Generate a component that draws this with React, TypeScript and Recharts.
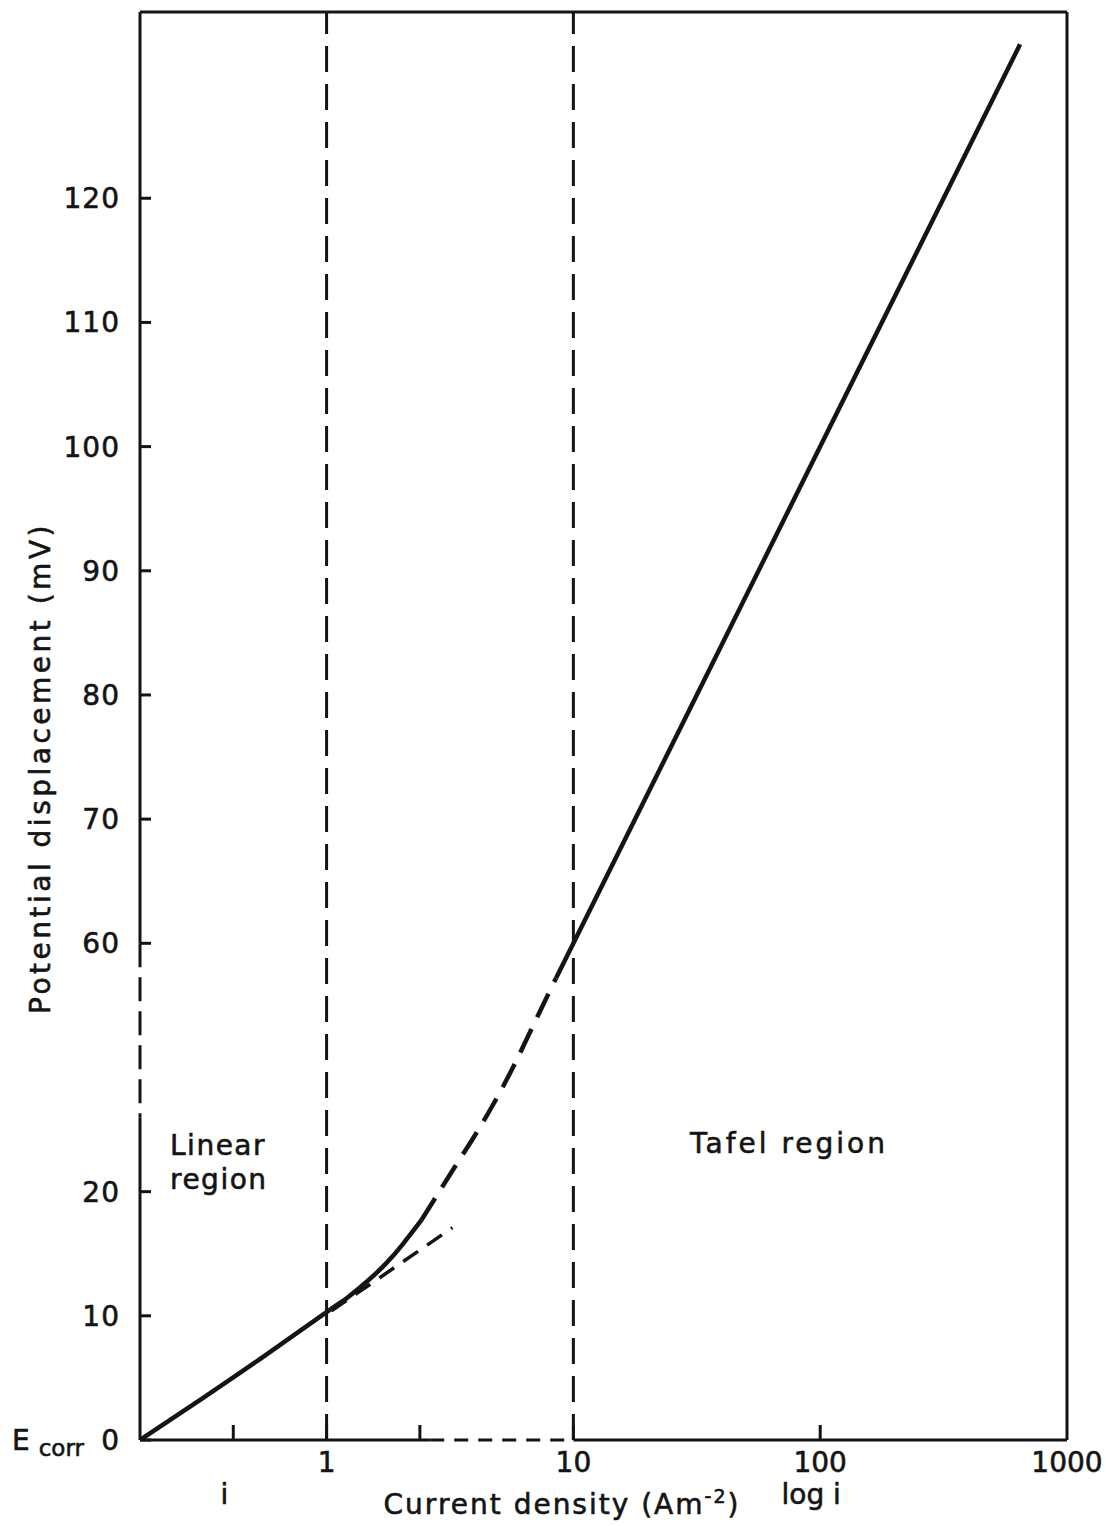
import { ComposedChart, Line, XAxis, YAxis, ReferenceLine } from 'recharts'

// x is in decades from i = 1 (the part left of 1 is drawn linear in i),
// y is the plotted mV: the axis skips 20..40 mV, so above 20 the plot sits 20 lower than the label
const X_MIN = -0.756
const X_MAX = 3
const Y_MAX = 115

const xTicks = [-0.378, 0, 0.378, 1, 2, 3]
const xTickLabels = ['', '1', '', '10', '100', '1000']
const xSubLabels = ['i', '', '', '', 'log i', '']

const yTicks = [0, 10, 20, 40, 50, 60, 70, 80, 90, 100]
const yTickLabels = ['0', '10', '20', '60', '70', '80', '90', '100', '110', '120']

// measured curve (solid, linear region)
const linearX = [-0.756, -0.5, -0.25, 0, 0.08, 0.16, 0.24, 0.31, 0.384]
const linearY = [0, 3.4, 6.8, 10.3, 11.4, 12.7, 14.2, 15.8, 17.7]

// dashed transition between the two regions
const transitionX = [0.384, 0.45, 0.52, 0.6, 0.68, 0.76, 0.84, 0.93]
const transitionY = [17.7, 19.8, 22.0, 24.5, 27.2, 30.2, 33.5, 37.2]

// Tafel line
const tafelX = [0.93, 1, 1.5, 2, 2.5, 2.81]
const tafelY = [37.2, 40, 60, 80, 100, 112.4]

// linear extrapolation past i = 1
const extrapX = [0.02, 0.51]
const extrapY = [10.4, 17.1]

// where the frame lines are dashed
const leftAxisBreak = [26, 40]
const bottomAxisBreak = [0.42, 1]

const toPoints = (xs: number[], ys: number[]) => xs.map((x, i) => ({ x, y: ys[i] }))

const INK = '#141414'
const FONT = '"DejaVu Sans", "Liberation Sans", sans-serif'
const txt = { fontSize: 28, fill: INK, fontFamily: FONT, stroke: INK, strokeWidth: 0.6 }

const XTick = ({ x, y, payload }: any) => {
  const i = xTicks.indexOf(payload.value)
  return (
    <g>
      {payload.value < X_MAX && (
        <line x1={x} y1={y} x2={x} y2={y - 15} stroke={INK} strokeWidth={3} />
      )}
      <text x={x} y={y + 32} textAnchor="middle" {...txt}>
        {xTickLabels[i]}
      </text>
      {xSubLabels[i] && (
        <text x={x - 9} y={y + 64} textAnchor="middle" {...txt}>
          {xSubLabels[i]}
        </text>
      )}
    </g>
  )
}

const YTick = ({ x, y, payload }: any) => {
  const i = yTicks.indexOf(payload.value)
  return (
    <g>
      <line x1={x} y1={y} x2={x + 11} y2={y} stroke={INK} strokeWidth={3} />
      <text x={x - 20} y={y + 10} textAnchor="end" letterSpacing={1} {...txt}>
        {yTickLabels[i]}
      </text>
      {payload.value === 0 && (
        <text x={x - 128} y={y + 10} {...txt}>
          E
          <tspan dx={9} dy={6} fontSize={23}>corr</tspan>
        </text>
      )}
    </g>
  )
}

export default function App() {
  const frame = { stroke: INK, strokeWidth: 3, ifOverflow: 'visible' as const }
  return (
    <div style={{ position: 'fixed', top: 0, left: 0, width: 1112, height: 1526, background: '#fff' }}>
      <ComposedChart
        width={1112}
        height={1526}
        margin={{ top: 12, right: 45, left: 0, bottom: 0 }}
        style={{ fontFamily: FONT }}
      >
        <XAxis
          type="number"
          dataKey="x"
          domain={[X_MIN, X_MAX]}
          allowDataOverflow
          ticks={xTicks}
          interval={0}
          height={86}
          axisLine={false}
          tickLine={false}
          tickSize={0}
          tickMargin={0}
          tick={<XTick />}
        />
        <YAxis
          type="number"
          domain={[0, Y_MAX]}
          allowDataOverflow
          ticks={yTicks}
          interval={0}
          width={140}
          axisLine={false}
          tickLine={false}
          tickSize={0}
          tickMargin={0}
          tick={<YTick />}
        />

        {/* frame */}
        <ReferenceLine segment={[{ x: X_MIN, y: Y_MAX }, { x: X_MAX, y: Y_MAX }]} {...frame} />
        <ReferenceLine segment={[{ x: X_MAX, y: 0 }, { x: X_MAX, y: Y_MAX }]} {...frame} />
        <ReferenceLine segment={[{ x: X_MIN, y: leftAxisBreak[1] }, { x: X_MIN, y: Y_MAX }]} {...frame} />
        <ReferenceLine segment={[{ x: X_MIN, y: leftAxisBreak[1] }, { x: X_MIN, y: leftAxisBreak[0] }]} {...frame} strokeDasharray="24 10" />
        <ReferenceLine segment={[{ x: X_MIN, y: 0 }, { x: X_MIN, y: leftAxisBreak[0] }]} {...frame} />
        <ReferenceLine segment={[{ x: X_MIN, y: 0 }, { x: bottomAxisBreak[0], y: 0 }]} {...frame} />
        <ReferenceLine segment={[{ x: bottomAxisBreak[0], y: 0 }, { x: bottomAxisBreak[1], y: 0 }]} {...frame} strokeDasharray="14 10" />
        <ReferenceLine segment={[{ x: bottomAxisBreak[1], y: 0 }, { x: X_MAX, y: 0 }]} {...frame} />

        <ReferenceLine x={0} stroke={INK} strokeWidth={3} strokeDasharray="26 12" />
        <ReferenceLine x={1} stroke={INK} strokeWidth={3} strokeDasharray="26 12" />

        <Line data={toPoints(linearX, linearY)} dataKey="y" type="natural" stroke={INK} strokeWidth={4.5} dot={false} isAnimationActive={false} />
        <Line data={toPoints(transitionX, transitionY)} dataKey="y" type="natural" stroke={INK} strokeWidth={4.5} strokeDasharray="26 13" dot={false} isAnimationActive={false} />
        <Line data={toPoints(tafelX, tafelY)} dataKey="y" type="linear" stroke={INK} strokeWidth={4.5} dot={false} isAnimationActive={false} />
        <Line data={toPoints(extrapX, extrapY)} dataKey="y" type="linear" stroke={INK} strokeWidth={3.5} strokeDasharray="18 11" dot={false} isAnimationActive={false} />

        <text x={170} y={1155} letterSpacing={1.5} {...txt}>Linear</text>
        <text x={170} y={1189} letterSpacing={1.5} {...txt}>region</text>
        <text x={690} y={1153} letterSpacing={3} {...txt}>Tafel region</text>

        <text
          x={40}
          y={768}
          transform="rotate(-90 40 768)"
          textAnchor="middle"
          dominantBaseline="central"
          letterSpacing={3.5}
          {...txt}
        >
          Potential displacement (mV)
        </text>
        <text x={562} y={1514} textAnchor="middle" letterSpacing={2} {...txt}>
          Current  density (Am
          <tspan dy={-11} fontSize={19}>-2</tspan>
          <tspan dy={11}>)</tspan>
        </text>
      </ComposedChart>
    </div>
  )
}
